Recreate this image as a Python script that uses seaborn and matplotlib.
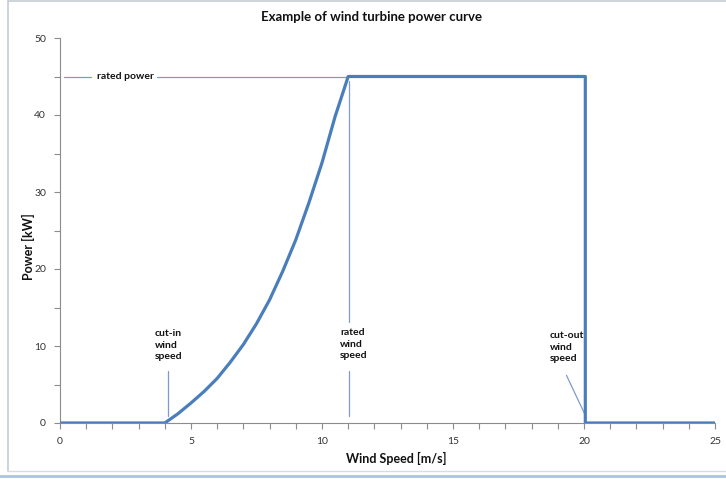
import numpy as np
import pandas as pd
import matplotlib
matplotlib.use("Agg")
import matplotlib.pyplot as plt
from matplotlib.lines import Line2D
from matplotlib.ticker import MultipleLocator
import seaborn as sns

# ---- data ----
wind_speed = [0, 1, 2, 3, 4, 4.5, 5, 5.5, 6, 6.5, 7, 7.5, 8, 8.5, 9, 9.5, 10, 10.5, 11,
              12, 13, 14, 15, 16, 17, 18, 19, 20.05, 20.05, 21, 22, 23, 24, 25]
power_kw = [0, 0, 0, 0, 0, 1.2, 2.6, 4.1, 5.8, 7.9, 10.2, 12.9, 16.0, 19.7, 23.8, 28.6, 33.8, 39.8, 45,
            45, 45, 45, 45, 45, 45, 45, 45, 45, 0, 0, 0, 0, 0, 0]

title = "Example of wind turbine power curve"
x_label = "Wind Speed [m/s]"
y_label = "Power [kW]"
x_ticks = [0, 5, 10, 15, 20, 25]
y_ticks = [0, 10, 20, 30, 40, 50]

rated_power = 45
cut_in = 4
rated_speed = 11
cut_out = 20

sns.set_theme(style="white")
FONT = ["Lato", "DejaVu Sans"]
plt.rcParams["font.family"] = FONT

df = pd.DataFrame({"wind": wind_speed, "power": power_kw})

fig = plt.figure(figsize=(7.26, 4.79), dpi=100)
ax = fig.add_axes([60 / 726, 1 - 423 / 479, 655 / 726, 385 / 479])

curve_color = "#4A7EBB"
ann_color = "#7C9CCB"

sns.lineplot(data=df, x="wind", y="power", ax=ax, estimator=None, sort=False,
             color=curve_color, linewidth=2.3, zorder=5)

ax.set_xlim(0, 25)
ax.set_ylim(0, 50)
ax.set_xticks(x_ticks)
ax.set_yticks(y_ticks)
ax.xaxis.set_minor_locator(MultipleLocator(1))
ax.yaxis.set_minor_locator(MultipleLocator(5))

axis_col = "#8C8C8C"
for s in ["top", "right"]:
    ax.spines[s].set_visible(False)
for s in ["left", "bottom"]:
    ax.spines[s].set_color(axis_col)
    ax.spines[s].set_linewidth(0.8)
ax.tick_params(axis="both", which="both", direction="out", color=axis_col, width=0.8,
               length=4, labelsize=7.5, labelcolor="#333333", pad=6)
ax.tick_params(axis="both", which="minor", length=4)
ax.tick_params(axis="x", which="both", bottom=True)
ax.tick_params(axis="y", which="both", left=True)

ax.set_xlabel(x_label, fontsize=9, fontweight="bold", color="#111111")
ax.set_ylabel(y_label, fontsize=9, fontweight="bold", color="#111111")
ax.xaxis.set_label_coords(0.513, -0.075)
ax.yaxis.set_label_coords(-0.038, 0.457)

fig.text(372 / 726, 1 - 17 / 479, title, ha="center", va="center",
         fontsize=9.5, fontweight="bold", color="#111111")

# ---- annotations ----
akw = dict(color=ann_color, linewidth=0.9, zorder=3)
txt = dict(fontsize=7.5, fontweight="bold", color="#111111", va="top", ha="left",
           linespacing=1.35)

# rated power
ax.plot([0.15, 1.17], [rated_power, rated_power], **akw)
ax.plot([3.7, rated_speed], [rated_power, rated_power], **akw)
ax.text(1.41, rated_power, "rated power", fontsize=7.5, fontweight="bold",
        color="#111111", va="center", ha="left")

# cut-in
ax.plot([cut_in + 0.13, cut_in + 0.13], [0.9, 6.8], **akw)
ax.text(3.63, 12.2, "cut-in\nwind\nspeed", **txt)

# rated wind speed
ax.plot([rated_speed + 0.03, rated_speed + 0.03], [13.1, 44.4], **akw)
ax.plot([rated_speed + 0.03, rated_speed + 0.03], [0.9, 6.8], **akw)
ax.text(10.69, 12.3, "rated\nwind\nspeed", **txt)

# cut-out
ax.plot([19.33, cut_out + 0.05], [6.2, 1.0], **akw)
ax.text(18.68, 11.9, "cut-out\nwind\nspeed", **txt)

# ---- chart-area frame ----
fc = "#C5CCD4"
fig.add_artist(Line2D([8 / 726, 8 / 726], [1 - 1 / 479, 1 - 471 / 479], color=fc, lw=1.2,
                      transform=fig.transFigure))
fig.add_artist(Line2D([8 / 726, 1], [1 - 1 / 479, 1 - 1 / 479], color=fc, lw=1.2,
                      transform=fig.transFigure))
fig.add_artist(Line2D([8 / 726, 1], [1 - 471 / 479, 1 - 471 / 479], color="#D5DCE2", lw=1.0,
                      transform=fig.transFigure))
fig.add_artist(Line2D([0, 1], [1 - 476 / 479, 1 - 476 / 479], color="#A9C4E8", lw=2.0,
                      transform=fig.transFigure))

fig.savefig("out.png", dpi=100)
